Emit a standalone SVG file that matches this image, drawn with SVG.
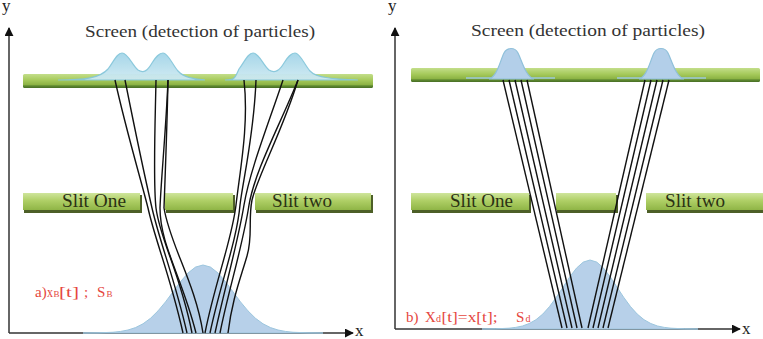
<svg xmlns="http://www.w3.org/2000/svg" width="763" height="339" viewBox="0 0 763 339">
<defs>
<linearGradient id="slitGrad" x1="0" y1="0" x2="0" y2="1">
<stop offset="0" stop-color="#cfe59c"/>
<stop offset="0.45" stop-color="#afcf66"/>
<stop offset="1" stop-color="#8fb546"/>
</linearGradient>
<linearGradient id="screenGrad" x1="0" y1="0" x2="0" y2="1">
<stop offset="0" stop-color="#c3de8a"/>
<stop offset="0.45" stop-color="#a5c95a"/>
<stop offset="0.75" stop-color="#8db445"/>
<stop offset="0.85" stop-color="#5f8a30"/>
<stop offset="1" stop-color="#476e25"/>
</linearGradient>
<linearGradient id="peakGrad" x1="0" y1="0" x2="0" y2="1">
<stop offset="0" stop-color="#a2d5e8"/>
<stop offset="1" stop-color="#cfeaf3"/>
</linearGradient>
<marker id="arr" viewBox="0 0 10 10" refX="9" refY="5" markerWidth="9" markerHeight="9" markerUnits="userSpaceOnUse" orient="auto">
<path d="M0,0 L10,5 L0,10 Z" fill="#111"/>
</marker>
</defs>
<style>
text{font-family:"Liberation Serif","DejaVu Serif","Times New Roman",serif}
.axis{stroke:#333;stroke-width:1.5;fill:none}
.axlbl{font-size:17px;fill:#222}
.title{font-size:17px;fill:#333}
.slit{fill:url(#slitGrad)}
.shadow{fill:#4d5f27}
.slittxt{font-size:18px;fill:#2b3114}
.screen{fill:url(#screenGrad)}
.peak{fill:url(#peakGrad);stroke:#86c7db;stroke-width:1.2;opacity:0.95}
.peak2{fill:#b3cfe9;stroke:#8fc0da;stroke-width:1.2}
.gauss{fill:#b7d0e9;stroke:#9cc6de;stroke-width:1}
.traj{fill:none;stroke:#111;stroke-width:1.4}
.red{font-size:15px;fill:#e5473e}
.sub{font-size:9px}
</style>

<!-- ========== LEFT PANEL ========== -->
<g id="left-axes">
<line class="axis" x1="9" y1="333" x2="9" y2="28" marker-end="url(#arr)"/>
<line class="axis" x1="9" y1="333" x2="353" y2="333" marker-end="url(#arr)"/>
<text class="axlbl" x="2" y="11">y</text>
<text class="axlbl" x="355" y="336">x</text>
</g>

<g id="left-source">
<path class="gauss" d="M83,333 L98,332.85 L113,332.25 L120.5,331.45 L128,330 L135.5,327.6 L143,323.8 L150.5,318.3 L158,310.9 L165.5,301.9 L173,291.8 L180.5,281.7 L188,273 L195.5,267.1 L203,265 L210.5,267.1 L218,273 L225.5,281.7 L233,291.8 L240.5,301.9 L248,310.9 L255.5,318.3 L263,323.8 L270.5,327.6 L278,330 L285.5,331.45 L293,332.25 L308,332.85 L323,333 Z"/>
</g>

<g id="left-screen">
<rect x="23" y="74" width="350" height="14" rx="1.5" class="screen"/>
<path class="peak" d="M58,80 C85,80 100,78 108,69 C114,61 117,53 122,53 C128,53 132,65 138,70 C144,74 148,70 152,63 C156,57 159,53 163,53 C168,53 172,64 178,71 C184,78 196,79 205,80 Z"/>
<path class="peak" d="M225,80 C235,80 235,78 239,69 C245,61 248,53 253,53 C259,53 263,65 269,70 C275,74 280,70 284,63 C288,57 291,53 295,53 C300,53 304,64 310,71 C316,78 335,79 358,80 Z"/>
<text class="title" x="85" y="37" textLength="230" lengthAdjust="spacingAndGlyphs">Screen (detection of particles)</text>
</g>

<g id="left-slit-one">
<rect class="shadow" x="24" y="195" width="118" height="18"/>
<rect class="slit" x="23" y="193" width="117" height="17"/>
<text class="slittxt" x="62" y="207" textLength="64" lengthAdjust="spacingAndGlyphs">Slit One</text>
</g>
<g id="left-slit-middle">
<rect class="shadow" x="166" y="195" width="69" height="18"/>
<rect class="slit" x="165" y="193" width="68" height="17"/>
</g>
<g id="left-slit-two">
<rect class="shadow" x="256" y="195" width="117" height="18"/>
<rect class="slit" x="255" y="193" width="116" height="17"/>
<text class="slittxt" x="272" y="207" textLength="60" lengthAdjust="spacingAndGlyphs">Slit two</text>
</g>

<g id="left-label">
<text class="red" y="297"><tspan x="35">a)</tspan><tspan x="47" textLength="6" lengthAdjust="spacingAndGlyphs">x</tspan><tspan x="53.5" class="sub">B</tspan><tspan x="59" textLength="20" lengthAdjust="spacingAndGlyphs">[t]</tspan><tspan x="84">;</tspan><tspan x="97">S</tspan><tspan x="106.5" class="sub">B</tspan></text>
</g>

<g id="left-trajectories">
<path class="traj" d="M115,80 C126,130 141,180 148,208 C155,240 170,275 183,333"/>
<path class="traj" d="M125,80 C135,130 146,182 152,208 C160,243 175,280 187,333"/>
<path class="traj" d="M156,80 C155,130 153,182 156,208 C160,240 180,272 192,333"/>
<path class="traj" d="M168,80 C166,130 161,180 160,208 C160,245 182,277 196,333"/>
<path class="traj" d="M168,80 C167,130 165,180 164,208 C170,245 195,282 203,333"/>
<path class="traj" d="M244,80 C249,125 240,170 236,205 C232,240 215,282 205,333"/>
<path class="traj" d="M256,80 C254,135 243,180 240,205 C237,240 220,285 210,333"/>
<path class="traj" d="M283,80 C268,125 250,170 244,205 C238,242 225,287 215,333"/>
<path class="traj" d="M298,80 C280,125 255,170 249,205 C243,245 228,292 220,333"/>
<path class="traj" d="M298,80 C283,130 258,175 252,200 C248,220 253,236 247,256 C240,280 232,300 228,333"/>
</g>

<!-- ========== RIGHT PANEL ========== -->
<g id="right-axes">
<line class="axis" x1="395" y1="329" x2="395" y2="28" marker-end="url(#arr)"/>
<line class="axis" x1="395" y1="329" x2="740" y2="329" marker-end="url(#arr)"/>
<text class="axlbl" x="388" y="11">y</text>
<text class="axlbl" x="742" y="334">x</text>
</g>

<g id="right-source">
<path class="gauss" d="M482,329 L495.5,328.85 L509,328.2 L515.75,327.4 L522.5,326 L529.25,323.5 L536,319.7 L542.75,314.1 L549.5,306.6 L556.25,297.4 L563,287.2 L569.75,276.9 L576.5,268.1 L583.25,262.1 L590,260 L596.75,262.1 L603.5,268.1 L610.25,276.9 L617,287.2 L623.75,297.4 L630.5,306.6 L637.25,314.1 L644,319.7 L650.75,323.5 L657.5,326 L664.25,327.4 L671,328.2 L684.5,328.85 L698,329 Z"/>
</g>

<g id="right-screen">
<rect x="411" y="68" width="349" height="14" rx="1.5" class="screen"/>
<path d="M466,78 L555,78" stroke="#9cc8dc" stroke-width="1.5" fill="none"/>
<path d="M617,78 L706,78" stroke="#9cc8dc" stroke-width="1.5" fill="none"/>
<path class="peak2" d="M489,79 C497,77 500,61 504,53 C507,47 515,47 518,53 C522,61 526,77 534,79 Z"/>
<path class="peak2" d="M639,79 C647,77 650,61 654,53 C657,47 665,47 668,53 C672,61 676,77 684,79 Z"/>
<text class="title" x="471" y="36" textLength="234" lengthAdjust="spacingAndGlyphs">Screen (detection of particles)</text>
</g>

<g id="right-slit-one">
<rect class="shadow" x="412" y="195" width="119" height="18"/>
<rect class="slit" x="411" y="193" width="118" height="17"/>
<text class="slittxt" x="450" y="207" textLength="63" lengthAdjust="spacingAndGlyphs">Slit One</text>
</g>
<g id="right-slit-middle">
<rect class="shadow" x="557" y="195" width="61" height="18"/>
<rect class="slit" x="556" y="193" width="60" height="17"/>
</g>
<g id="right-slit-two">
<rect class="shadow" x="647" y="195" width="117" height="18"/>
<rect class="slit" x="646" y="193" width="117" height="17"/>
<text class="slittxt" x="665" y="207" textLength="60" lengthAdjust="spacingAndGlyphs">Slit two</text>
</g>

<g id="right-label">
<text class="red" y="322" font-size="16"><tspan x="406">b)</tspan><tspan x="425">X</tspan><tspan x="436" font-size="10">d</tspan><tspan x="441.5" textLength="56" lengthAdjust="spacingAndGlyphs">[t]=x[t];</tspan><tspan x="516">S</tspan><tspan x="525.5" font-size="10">d</tspan></text>
</g>

<g id="right-trajectories">
<path class="traj" d="M503,80 L562,328"/>
<path class="traj" d="M509,80 L567,328"/>
<path class="traj" d="M515,80 L572,328"/>
<path class="traj" d="M521,80 L577,328"/>
<path class="traj" d="M527,80 L582,328"/>
<path class="traj" d="M645,80 L588,328"/>
<path class="traj" d="M651,80 L593,328"/>
<path class="traj" d="M657,80 L598,328"/>
<path class="traj" d="M663,80 L603,328"/>
<path class="traj" d="M669,80 L608,328"/>
</g>
</svg>
